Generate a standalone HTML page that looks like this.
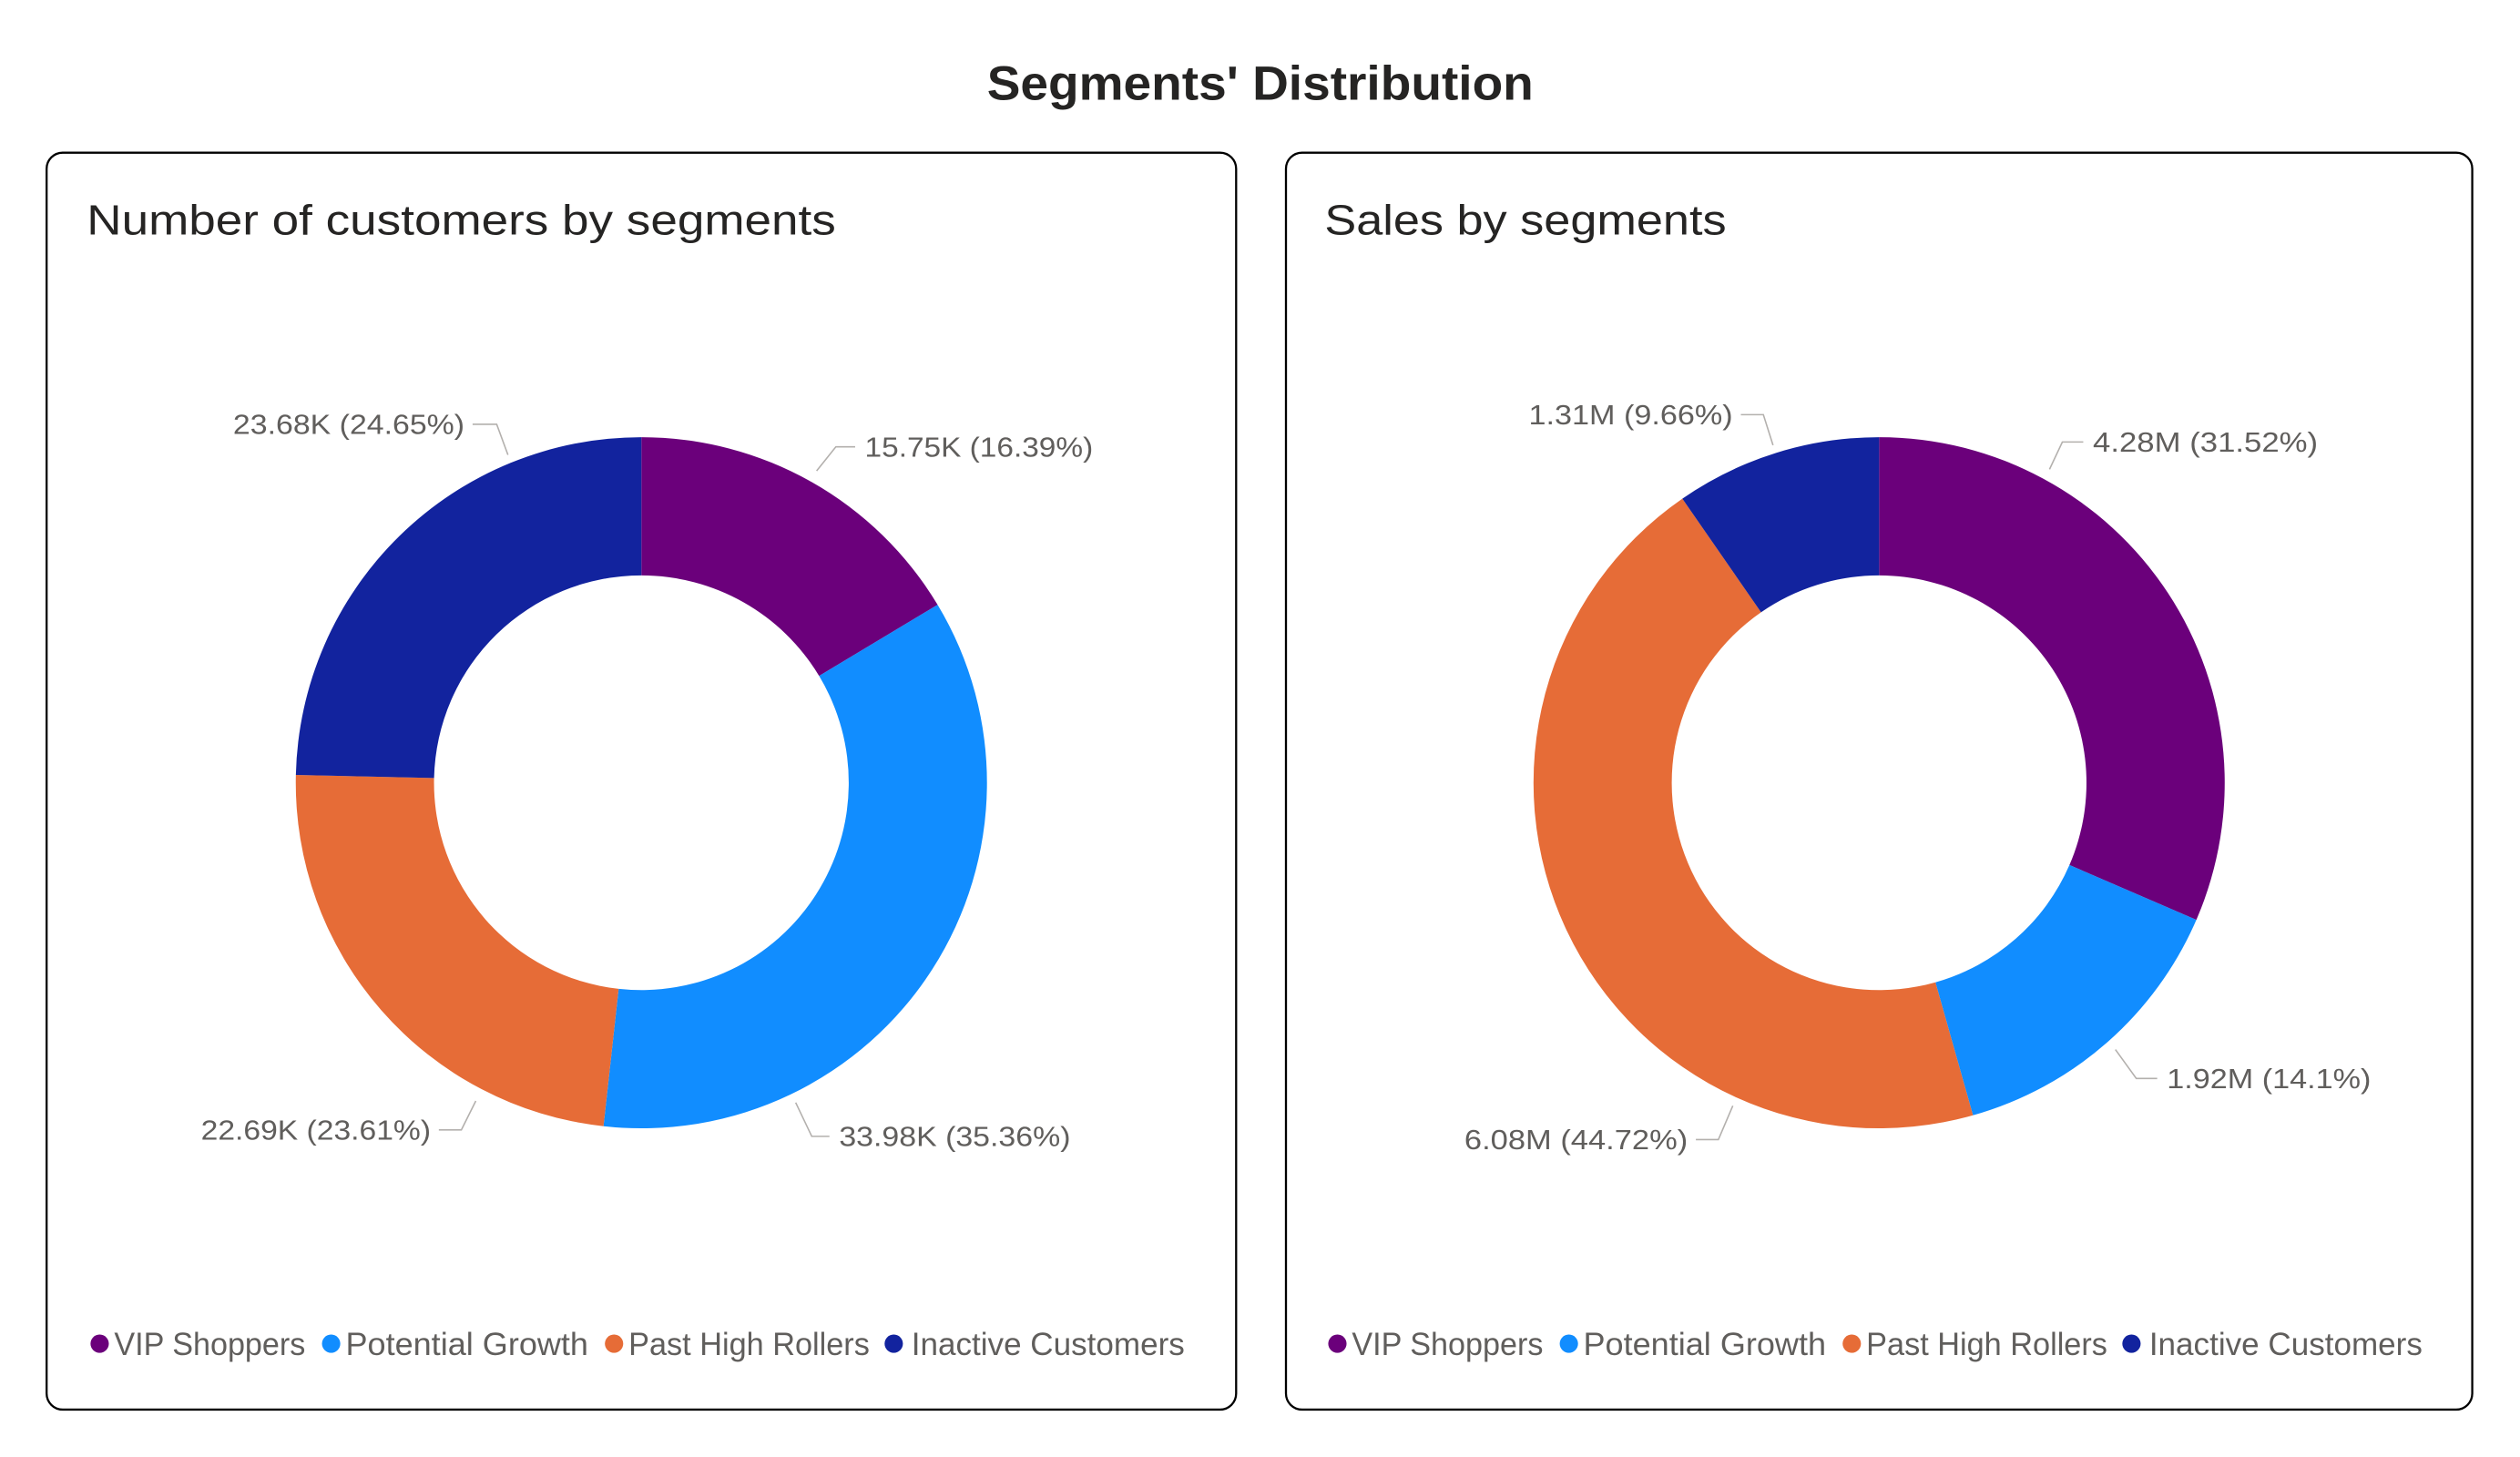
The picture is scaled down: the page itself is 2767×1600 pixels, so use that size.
<!DOCTYPE html>
<html><head><meta charset="utf-8">
<style>
html,body{margin:0;padding:0;background:#fff;}
svg{display:block;font-family:"Liberation Sans",sans-serif;}
</style></head>
<body>
<svg id="root" width="2767" height="1600" viewBox="0 0 1567.7 906.5" xmlns="http://www.w3.org/2000/svg">
<rect x="0" y="0" width="1567.7" height="906.5" fill="#fff"/>
<text x="784" y="62" text-anchor="middle" font-size="30" font-weight="bold" fill="#252423" textLength="340" lengthAdjust="spacingAndGlyphs">Segments' Distribution</text>
<rect x="29" y="95" width="740" height="782" rx="10" fill="#fff" stroke="#000" stroke-width="1.3"/>
<rect x="800" y="95" width="738" height="782" rx="10" fill="#fff" stroke="#000" stroke-width="1.3"/>
<text x="54" y="146" font-size="26" fill="#252423" textLength="466" lengthAdjust="spacingAndGlyphs">Number of customers by segments</text>
<text x="824" y="146" font-size="26" fill="#252423" textLength="250" lengthAdjust="spacingAndGlyphs">Sales by segments</text>
<g id="g1"></g>
<g id="g2"></g>
</svg>
<script>
const categories = ["VIP Shoppers","Potential Growth","Past High Rollers","Inactive Customers"];
const customerValues = [15.75, 33.98, 22.69, 23.68];
const customerLabels = ["15.75K (16.39%)","33.98K (35.36%)","22.69K (23.61%)","23.68K (24.65%)"];
const salesValues = [4.28, 1.92, 6.08, 1.31];
const salesLabels = ["4.28M (31.52%)","1.92M (14.1%)","6.08M (44.72%)","1.31M (9.66%)"];
const colors = ["#6B007B","#118DFF","#E66C37","#12239E"];

const NS = "http://www.w3.org/2000/svg";
function mk(tag, attrs, parent){
  const e = document.createElementNS(NS, tag);
  for (const k in attrs) e.setAttribute(k, attrs[k]);
  parent.appendChild(e);
  return e;
}
const layout1 = [
  {p:[[508,293],[520,278],[532,278]], tx:538, ty:284, anchor:"start", w:142},
  {p:[[495,686],[505,707],[516,707]], tx:522, ty:713, anchor:"start", w:144},
  {p:[[296,685],[287,703],[273,703]], tx:268, ty:709, anchor:"end", w:143},
  {p:[[316,283],[309,264],[294,264]], tx:289, ty:270, anchor:"end", w:144}
];
const layout2 = [
  {p:[[1275,292],[1283,275],[1296,275]], tx:1302, ty:281, anchor:"start", w:140},
  {p:[[1316,653],[1329,671],[1342,671]], tx:1348, ty:677, anchor:"start", w:127},
  {p:[[1078,688],[1069,709],[1055,709]], tx:1050, ty:715, anchor:"end", w:139},
  {p:[[1103,277],[1097,258],[1083,258]], tx:1078, ty:264, anchor:"end", w:127}
];
function angleScale(values){
  const total = values.reduce((a,b)=>a+b,0);
  return v => v/total*2*Math.PI;
}
function pt(cx,cy,r,a){ return [cx+r*Math.sin(a), cy-r*Math.cos(a)]; }
function drawDonut(g, cx, cy, values, labels, layout, legendX){
  const R=215, r=129;
  const ang = angleScale(values);
  let a0 = 0;
  values.forEach((v,i)=>{
    const a1 = a0 + ang(v);
    const large = (a1-a0) > Math.PI ? 1 : 0;
    const o0=pt(cx,cy,R,a0), o1=pt(cx,cy,R,a1), i1=pt(cx,cy,r,a1), i0=pt(cx,cy,r,a0);
    const path = mk("path",{d:`M${o0[0]},${o0[1]} A${R},${R} 0 ${large} 1 ${o1[0]},${o1[1]} L${i1[0]},${i1[1]} A${r},${r} 0 ${large} 0 ${i0[0]},${i0[1]} Z`, fill:colors[i]}, g);
    
    
    a0 = a1;
    const L = layout[i];
    const line = mk("polyline",{points:L.p.map(q=>q.join(",")).join(" "), fill:"none", stroke:"#b3b0ad", "stroke-width":"0.9"}, g);
    
    
    const t = mk("text",{x:L.tx, y:L.ty, "text-anchor":L.anchor, "font-size":"17.5", fill:"#605e5c", textLength:L.w, lengthAdjust:"spacingAndGlyphs"}, g);
    t.textContent = labels[i];
    
    
  });
  const dotX=[62,206,382,556], txtX=[71,215,391,567], txtW=[119,151,150,170];
  categories.forEach((c,i)=>{
    const d = mk("circle",{cx:legendX+dotX[i], cy:836, r:5.7, fill:colors[i]}, g);
    
    
    const t = mk("text",{x:legendX+txtX[i], y:843, "font-size":"20", fill:"#605e5c", textLength:txtW[i], lengthAdjust:"spacingAndGlyphs"}, g);
    t.textContent = c;
    
    
  });
}
drawDonut(document.getElementById("g1"), 399, 487, customerValues, customerLabels, layout1, 0);
drawDonut(document.getElementById("g2"), 1169, 487, salesValues, salesLabels, layout2, 770);
</script>
</body></html>
